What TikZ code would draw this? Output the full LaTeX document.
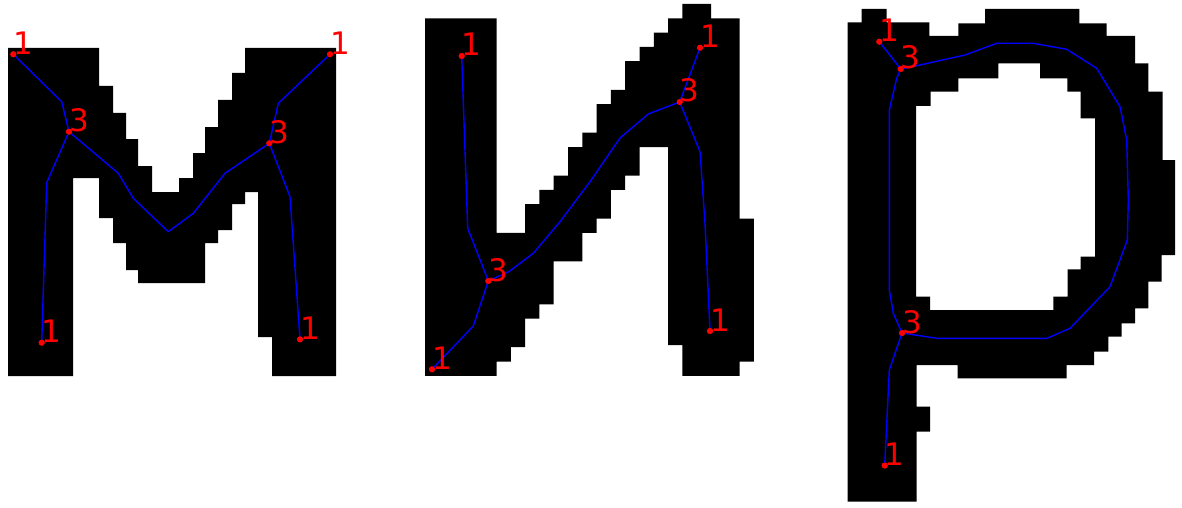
\documentclass[tikz,border=0pt]{standalone}
\usepackage{fontspec}
\newfontfamily\lblfont{DejaVu Sans}
\begin{document}
\begin{tikzpicture}[x=1pt,y=-1pt,
  glyph/.style={fill=black,even odd rule},
  skel/.style={draw=blue,line width=1.4pt,line join=round},
  vdot/.style={circle,fill=red,inner sep=0pt,minimum size=6pt},
  lbl/.style={text=red,font=\lblfont\fontsize{31}{31}\selectfont,anchor=base west,inner sep=0pt}]
\useasboundingbox[fill=white] (0,0) rectangle (1182,508);
% ---------- letter m ----------
\fill[glyph] (8,48) -- (99,48) -- (99,86) -- (113,86) -- (113,113) -- (126,113) -- (126,139) -- (138,139) -- (138,166) -- (152,166) -- (152,192) -- (179,192) -- (179,178) -- (193,178) -- (193,153) -- (205,153) -- (205,127) -- (218,127) -- (218,100) -- (232,100) -- (232,73) -- (245,73) -- (245,48) -- (336,48) -- (336,376) -- (272,376) -- (272,337) -- (258,337) -- (258,192) -- (245,192) -- (245,204) -- (232,204) -- (232,230) -- (218,230) -- (218,243) -- (205,243) -- (205,283) -- (138,283) -- (138,270) -- (126,270) -- (126,243) -- (113,243) -- (113,218) -- (99,218) -- (99,178) -- (73,178) -- (73,376) -- (8,376) -- cycle;
% ---------- letter i ----------
\fill[glyph] (425,18.3) -- (496.5,18.3) -- (496.5,232.8) -- (525.1,232.8) -- (525.1,204.2) -- (539.4,204.2) -- (539.4,189.9) -- (553.7,189.9) -- (553.7,175.6) -- (568,175.6) -- (568,147) -- (582.3,147) -- (582.3,132.7) -- (596.6,132.7) -- (596.6,104.1) -- (610.9,104.1) -- (610.9,89.8) -- (625.2,89.8) -- (625.2,61.2) -- (639.5,61.2) -- (639.5,46.9) -- (653.8,46.9) -- (653.8,32.6) -- (668.1,32.6) -- (668.1,18.3) -- (682.4,18.3) -- (682.4,4) -- (711,4) -- (711,18.3) -- (739.6,18.3) -- (739.6,218.5) -- (753.9,218.5) -- (753.9,361.5) -- (739.6,361.5) -- (739.6,375.8) -- (682.4,375.8) -- (682.4,345) -- (668.1,345) -- (668.1,147) -- (639.5,147) -- (639.5,175.6) -- (625.2,175.6) -- (625.2,189.9) -- (610.9,189.9) -- (610.9,218.5) -- (596.6,218.5) -- (596.6,232.8) -- (582.3,232.8) -- (582.3,261.4) -- (553.7,261.4) -- (553.7,304.3) -- (539.4,304.3) -- (539.4,318.6) -- (525.1,318.6) -- (525.1,347.2) -- (510.8,347.2) -- (510.8,361.5) -- (496.5,361.5) -- (496.5,375.8) -- (425,375.8) -- cycle;
% ---------- letter r ----------
\fill[glyph] (847.5,22.3) -- (861.7,22.3) -- (861.7,9) -- (886.7,9) -- (886.7,22.3) -- (929.3,22.3) -- (929.3,36) -- (958.3,36) -- (958.3,23.3) -- (985,23.3) -- (985,9) -- (1079.3,9) -- (1079.3,23.3) -- (1106.7,23.3) -- (1106.7,36) -- (1135,36) -- (1135,63.3) -- (1148.3,63.3) -- (1148.3,91.7) -- (1162.7,91.7) -- (1162.7,160) -- (1175,160) -- (1175,255) -- (1161.7,255) -- (1161.7,281.7) -- (1148.3,281.7) -- (1148.3,308.3) -- (1135,308.3) -- (1135,323.3) -- (1121.7,323.3) -- (1121.7,336.7) -- (1108.3,336.7) -- (1108.3,351.7) -- (1094,351.7) -- (1094,365) -- (1066.7,365) -- (1066.7,378.3) -- (957.7,378.3) -- (957.7,365) -- (916.7,365) -- (916.7,406.7) -- (930,406.7) -- (930,431.7) -- (916.7,431.7) -- (916.7,501.7) -- (847.5,501.7) -- cycle
  (998.3,63.3) -- (1040,63.3) -- (1040,78.3) -- (1067.3,78.3) -- (1067.3,91.7) -- (1080.7,91.7) -- (1080.7,118.3) -- (1095,118.3) -- (1095,256.7) -- (1080.7,256.7) -- (1080.7,269.3) -- (1067.5,269.3) -- (1067.5,296.7) -- (1053.3,296.7) -- (1053.3,310) -- (930,310) -- (930,296.7) -- (916,296.7) -- (916,106) -- (930.7,106) -- (930.7,91.7) -- (958.3,91.7) -- (958.3,78.3) -- (998.3,78.3) -- cycle;
% ---------- vertices ----------
\node[vdot] (mA1) at (13.3,54.3) {};
\node[vdot] (mA3) at (69,131.7) {};
\node[vdot] (mA1b) at (41.7,342.7) {};
\node[vdot] (mB3) at (269.3,143.3) {};
\node[vdot] (mB1) at (330,54.3) {};
\node[vdot] (mB1b) at (300,339.3) {};
\node[vdot] (iA1) at (461.7,56) {};
\node[vdot] (iA3) at (488.3,281) {};
\node[vdot] (iA1b) at (432,369.3) {};
\node[vdot] (iB3) at (679.7,102) {};
\node[vdot] (iB1) at (700,47.7) {};
\node[vdot] (iB1b) at (710,331) {};
\node[vdot] (pA1) at (879.3,41.7) {};
\node[vdot] (pA3) at (900.7,69) {};
\node[vdot] (pB3) at (902,333) {};
\node[vdot] (pB1) at (884.7,465.5) {};
% ---------- skeleton ----------
\draw[skel] (mA1.center) -- (61.7,101.7) -- (mA3.center);
\draw[skel] (mA3.center) -- (46.7,182.7) -- (mA1b.center);
\draw[skel] (mA3.center) -- (118.3,173.3) -- (133.3,198.3) -- (168.3,231.7) -- (193.3,213.3) -- (225,173.3) -- (mB3.center);
\draw[skel] (mB3.center) -- (278.3,103.3) -- (mB1.center);
\draw[skel] (mB3.center) -- (290,196.7) -- (mB1b.center);
\draw[skel] (iA1.center) -- (467.7,228.3) -- (iA3.center);
\draw[skel] (iA3.center) -- (473.3,326) -- (iA1b.center);
\draw[skel] (iA3.center) -- (509,271.5) -- (533.3,253.3) -- (560,221.7) -- (590,181.7) -- (620,138) -- (648.3,114) -- (iB3.center);
\draw[skel] (iB3.center) -- (iB1.center);
\draw[skel] (iB3.center) -- (700,151.7) -- (705,223.3) -- (iB1b.center);
\draw[skel] (pA1.center) -- (pA3.center);
\draw[skel] (pA3.center) -- (920,65) -- (965,55) -- (996.7,43.3) -- (1033.3,43.3) -- (1066.7,49.3) -- (1096.7,68.3) -- (1120,106.7) -- (1126.7,140) -- (1128.3,200) -- (1127.3,240) -- (1110,286.7) -- (1070,328.3) -- (1047,338.3) -- (936.7,338.3) -- (pB3.center);
\draw[skel] (pA3.center) -- (896.7,78.3) -- (889.3,110) -- (889.3,290) -- (893.3,313.3) -- (pB3.center);
\draw[skel] (pB3.center) -- (889.3,370) -- (pB1.center);
% redraw dots on top of the skeleton
\foreach \n in {mA1,mA3,mA1b,mB3,mB1,mB1b,iA1,iA3,iA1b,iB3,iB1,iB1b,pA1,pA3,pB3,pB1}
  \fill[red] (\n.center) circle (3pt);
% ---------- labels ----------
\node[lbl] (lmA1) at (mA1.center) {1};
\node[lbl] (lmA3) at (mA3.center) {3};
\node[lbl] (lmA1b) at (mA1b.center) {1};
\node[lbl] (lmB3) at (mB3.center) {3};
\node[lbl] (lmB1) at (mB1.center) {1};
\node[lbl] (lmB1b) at (mB1b.center) {1};
\node[lbl] (liA1) at (iA1.center) {1};
\node[lbl] (liA3) at (iA3.center) {3};
\node[lbl] (liA1b) at (iA1b.center) {1};
\node[lbl] (liB3) at (iB3.center) {3};
\node[lbl] (liB1) at (iB1.center) {1};
\node[lbl] (liB1b) at (iB1b.center) {1};
\node[lbl] (lpA1) at (pA1.center) {1};
\node[lbl] (lpA3) at (pA3.center) {3};
\node[lbl] (lpB3) at (pB3.center) {3};
\node[lbl] (lpB1) at (pB1.center) {1};
\end{tikzpicture}
\end{document}
